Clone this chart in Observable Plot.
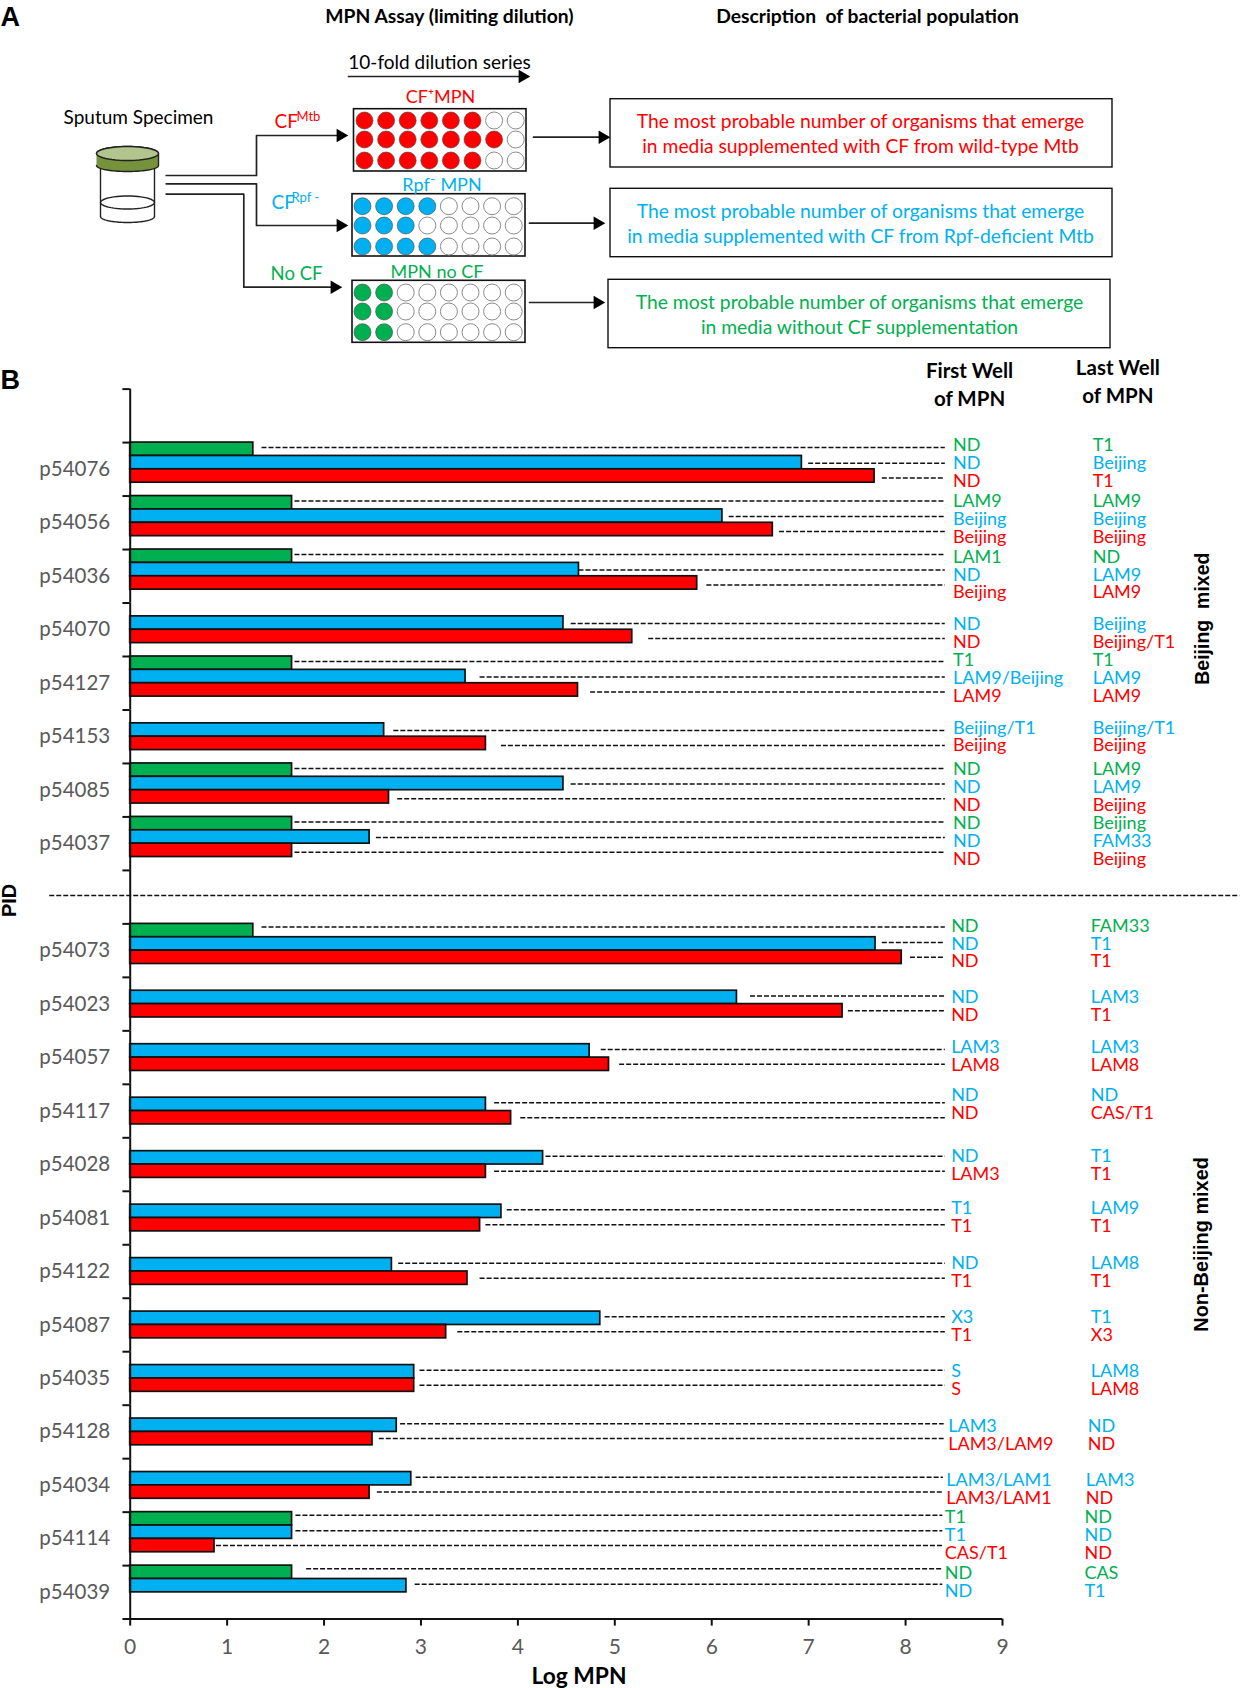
<!DOCTYPE html>
<html>
<head>
<meta charset="utf-8">
<script src="https://cdn.jsdelivr.net/npm/d3@7"></script>
<script src="https://cdn.jsdelivr.net/npm/@observablehq/plot@0.6"></script>
<style>
html,body{margin:0;padding:0;background:#fff}
svg{display:block}
</style>
</head>
<body>
<div id="chart"></div>
<script>
// ---------- Panel B data ----------
const pids = ["p54076","p54056","p54036","p54070","p54127","p54153","p54085","p54037",
  "p54073","p54023","p54057","p54117","p54028","p54081","p54122","p54087","p54035","p54128","p54034","p54114","p54039"];
const beijingMixedCount = 8;
const greenMpn = [1.27,1.67,1.67,null,1.67,null,1.67,1.67, 1.27,null,null,null,null,null,null,null,null,null,null,1.67,1.67];
const blueMpn  = [6.93,6.11,4.63,4.47,3.46,2.62,4.47,2.47, 7.69,6.26,4.74,3.67,4.26,3.83,2.70,4.85,2.93,2.75,2.90,1.67,2.85];
const redMpn   = [7.68,6.63,5.85,5.18,4.62,3.67,2.67,1.67, 7.96,7.35,4.94,3.93,3.67,3.61,3.48,3.26,2.93,2.50,2.47,0.87,null];
const greenLead = [1.36,1.70,1.70,null,1.70,null,1.70,1.70, 1.36,null,null,null,null,null,null,null,null,null,null,1.71,1.82];
const blueLead  = [7.00,6.18,4.63,4.55,3.61,2.72,4.55,2.54, 7.76,6.40,4.86,3.76,4.29,3.89,2.77,4.90,2.99,2.79,2.95,1.71,2.94];
const redLead   = [7.76,6.70,5.95,5.35,4.75,3.83,2.76,1.70, 8.05,7.41,5.05,4.03,3.76,3.67,3.61,3.38,2.99,2.57,2.55,0.89,null];
const greenFirst = ["ND","LAM9","LAM1",null,"T1",null,"ND","ND", "ND",null,null,null,null,null,null,null,null,null,null,"T1","ND"];
const blueFirst  = ["ND","Beijing","ND","ND","LAM9/Beijing","Beijing/T1","ND","ND", "ND","ND","LAM3","ND","ND","T1","ND","X3","S","LAM3","LAM3/LAM1","T1","ND"];
const redFirst   = ["ND","Beijing","Beijing","ND","LAM9","Beijing","ND","ND", "ND","ND","LAM8","ND","LAM3","T1","T1","T1","S","LAM3/LAM9","LAM3/LAM1","CAS/T1",null];
const greenLast = ["T1","LAM9","ND",null,"T1",null,"LAM9","Beijing", "FAM33",null,null,null,null,null,null,null,null,null,null,"ND","CAS"];
const blueLast  = ["Beijing","Beijing","LAM9","Beijing","LAM9","Beijing/T1","LAM9","FAM33", "T1","LAM3","LAM3","ND","T1","LAM9","LAM8","T1","LAM8","ND","LAM3","ND","T1"];
const redLast   = ["T1","Beijing","LAM9","Beijing/T1","LAM9","Beijing","Beijing","Beijing", "T1","T1","LAM8","CAS/T1","T1","T1","T1","X3","LAM8","ND","ND","ND",null];
const xTicks = [0,1,2,3,4,5,6,7,8,9];

// ---------- Panel A data ----------
const plateFilled = [[6,7,6],[4,3,4],[2,2,2]];
const plateNames = ["CF","Rpf","NoCF"];
const descriptions = [
  ["The most probable number of organisms that emerge","in media supplemented with CF from wild-type Mtb"],
  ["The most probable number of organisms that emerge","in media supplemented with CF from Rpf-deficient Mtb"],
  ["The most probable number of organisms that emerge","in media without CF supplementation"]
];

// ---------- Shared look ----------
const RED="#FF0000", BLUE="#00B0F0", GREEN="#00B050";
const FONT="Lato, Carlito, 'Open Sans', sans-serif";
const colours = {CF:RED, Rpf:BLUE, NoCF:GREEN};

// ---------- Panel A ----------
const plateBox = [
  {x1:353.5,x2:526,y1:108.7,y2:171, wx:364, wy:[120,139,160]},
  {x1:352,x2:525,y1:193.7,y2:256, wx:362, wy:[205.7,225,246]},
  {x1:352,x2:525,y1:280.3,y2:342.3, wx:362, wy:[292,311,331.7]}
];
const wells = plateFilled.flatMap((rows,p)=>rows.flatMap((n,r)=>d3.range(8).map(c=>({
  x: plateBox[p].wx + c*21.6, y: plateBox[p].wy[r], plate: plateNames[p], filled: c<n
}))));
const descBox = [
  {x1:610,x2:1112,y1:98.7,y2:167, cx:860, ty:[121.7,146], plate:"CF"},
  {x1:610,x2:1112,y1:188.3,y2:256.7, cx:860, ty:[211,236], plate:"Rpf"},
  {x1:608,x2:1110,y1:279.3,y2:347.7, cx:859, ty:[302,327], plate:"NoCF"}
];
const descText = descBox.flatMap((b,i)=>descriptions[i].map((t,j)=>({x:b.cx,y:b.ty[j],t,plate:b.plate})));
const connectors = [
  [[165.7,175],[256,175],[256,135],[340,135]],
  [[165.7,183.3],[256,183.3],[256,225],[340,225]],
  [[165.7,193.7],[243.3,193.7],[243.3,286.7],[334,286.7]],
  [[533,136.7],[602,136.7]],
  [[529,222.7],[597,222.7]],
  [[529,302],[597,302]],
  [[348,76],[522,76]]
];
const heads = [[340,135],[340,225],[334,286.7],[602,136.7],[597,222.7],[597,302],[522,76]];
function ell(cx,cy,rx,ry,a0=0,a1=360){
  const n=48; return d3.range(n+1).map(i=>{const a=(a0+(a1-a0)*i/n)*Math.PI/180;return [cx+rx*Math.cos(a),cy+ry*Math.sin(a)];});
}
const vialBody = [[100,168],...ell(127,216,27,6,180,0),[154,168]];
const capBody = [...ell(127,153,31,7,180,360),...ell(127,165,31,6,0,180)];
const flat = (pts,id)=>pts.map(([x,y])=>({x,y,id}));

const panelA = Plot.plot({
  width:1240,height:352,margin:0,
  x:{domain:[0,1240],range:[0,1240],axis:null},
  y:{domain:[0,352],range:[0,352],axis:null},
  color:{domain:Object.keys(colours),range:Object.values(colours)},
  style:{background:"transparent",fontFamily:FONT,overflow:"visible"},
  marks:[
    Plot.text(["A"],{x:0,y:17,text:d=>d,textAnchor:"start",fontWeight:"bold",fontSize:27,fontFamily:"'Liberation Sans',sans-serif"}),
    Plot.text(["MPN Assay (limiting dilution)"],{x:449,y:16.5,text:d=>d,fontWeight:"bold",fontSize:19.3}),
    Plot.text(["Description  of bacterial population"],{x:867,y:16.5,text:d=>d,fontWeight:"bold",fontSize:19.3}),
    Plot.text(["10-fold dilution series"],{x:439,y:62.5,text:d=>d,fontSize:19}),
    Plot.text(["Sputum Specimen"],{x:138,y:117.5,text:d=>d,fontSize:19}),
    ...connectors.map(c=>Plot.line(flat(c),{x:"x",y:"y",stroke:"#222",strokeWidth:1.7,curve:"linear"})),
    Plot.dot(heads,{x:d=>d[0],y:d=>d[1],symbol:"triangle",rotate:90,r:5,fill:"black",stroke:"none"}),
    // vial
    Plot.line(flat(vialBody),{x:"x",y:"y",stroke:"#222",strokeWidth:1.4}),
    Plot.line(flat(ell(127,202,27,6.5)),{x:"x",y:"y",stroke:"#222",strokeWidth:1.4}),
    Plot.line(flat(capBody),{x:"x",y:"y",fill:"#76923C",stroke:"#222",strokeWidth:1.4}),
    Plot.line(flat(ell(127,153,31,7)),{x:"x",y:"y",fill:"#B2C58C",stroke:"#222",strokeWidth:1.4}),
    // side labels
    Plot.text(["CF"],{x:274,y:121,text:d=>d,textAnchor:"start",fill:RED,fontSize:19}),
    Plot.text(["Mtb"],{x:296,y:116,text:d=>d,textAnchor:"start",fill:RED,fontSize:13}),
    Plot.text(["CF"],{x:271,y:202,text:d=>d,textAnchor:"start",fill:BLUE,fontSize:19}),
    Plot.text(["Rpf -"],{x:291,y:197,text:d=>d,textAnchor:"start",fill:BLUE,fontSize:13}),
    Plot.text(["No CF"],{x:296,y:274,text:d=>d,fill:GREEN,fontSize:18.5}),
    // plates
    Plot.rect(plateBox,{x1:"x1",x2:"x2",y1:"y1",y2:"y2",fill:"white",stroke:"#111",strokeWidth:1.6}),
    Plot.dot(wells.filter(d=>!d.filled),{x:"x",y:"y",r:8.5,fill:"white",stroke:"#8a8a8a",strokeWidth:1}),
    Plot.dot(wells.filter(d=>d.filled),{x:"x",y:"y",r:8.5,fill:"plate",stroke:"#444",strokeWidth:.6}),
    Plot.text(["CF\u207AMPN"],{x:440,y:96.5,text:d=>d,fill:RED,fontSize:18}),
    Plot.text(["Rpf\u207B MPN"],{x:441.5,y:184.5,text:d=>d,fill:BLUE,fontSize:18}),
    Plot.text(["MPN no CF"],{x:436.5,y:271.5,text:d=>d,fill:GREEN,fontSize:18}),
    // description boxes
    Plot.rect(descBox,{x1:"x1",x2:"x2",y1:"y1",y2:"y2",fill:"none",stroke:"#111",strokeWidth:1.4}),
    Plot.text(descText,{x:"x",y:"y",text:"t",fill:"plate",fontSize:19.3})
  ]
});

// ---------- Panel B ----------
const slots = ["blankTop",...pids.slice(0,beijingMixedCount),"blankMid",...pids.slice(beijingMixedCount)];
const seriesOrder = ["NoCF","Rpf","CF","space"];
const columns = [
  ["NoCF",greenMpn,greenLead,greenFirst,greenLast],
  ["Rpf",blueMpn,blueLead,blueFirst,blueLast],
  ["CF",redMpn,redLead,redFirst,redLast]
];
const labelDrift = {p54128:-.03,p54034:-.05,p54114:-.065,p54039:-.065};
const labelNudge = {p54076:.5,p54056:3.2,p54036:5.4,p54070:1,p54127:2,p54153:-2,p54085:4.3,p54037:4.8,
  p54057:-3.2,p54117:-8.6,p54028:-1,p54081:-3.2,p54122:-1,p54087:-1,p54128:1,p54034:2,p54114:3.2,p54039:5.4};
const rows = columns.flatMap(([series,m,l,f,la])=>pids.map((pid,i)=>({
  pid,series,mpn:m[i],lead:l[i],first:f[i],last:la[i],upper:i<beijingMixedCount
}))).filter(d=>d.mpn!=null);
const lastSlot = slots[slots.length-1];
const textDy = {NoCF:-4.7,Rpf:-.2,CF:4.3};
const leaderDy = {true:{NoCF:-1.7,Rpf:.5,CF:2},false:{NoCF:-3.5,Rpf:-1.5,CF:0}};
const labelMarks = rows.flatMap(d=>{
  const base = {y:"series",fy:"pid",fill:"series",fontSize:18,textAnchor:"start",dy:textDy[d.series]+(labelNudge[d.pid]||0)};
  const x0 = (labelDrift[d.pid]||0)+(d.upper?.02:0);
  return [
    Plot.text([d],{...base,x:()=>8.47+x0,text:"first"}),
    Plot.text([d],{...base,x:()=>9.91+x0,text:"last"})
  ];
});
const leaderMarks = [true,false].flatMap(u=>Object.keys(textDy).map(s=>
  Plot.ruleY(rows.filter(d=>d.series===s&&d.upper===u),{y:"series",fy:"pid",x1:"lead",x2:d=>8.41+(labelDrift[d.pid]||0)*.4,stroke:"#111",strokeWidth:1.5,strokeDasharray:"5 2",dy:leaderDy[u][s]})
));

const panelB = Plot.plot({
  width:1240,height:1336,
  marginTop:36.6,marginBottom:69.4,marginLeft:129.7,marginRight:238,
  x:{domain:[0,9]},
  y:{domain:seriesOrder,padding:0,round:false,axis:null},
  fy:{domain:slots,padding:0,round:false},
  color:{domain:Object.keys(colours),range:Object.values(colours)},
  style:{background:"transparent",fontFamily:FONT,overflow:"visible"},
  marks:[
    Plot.axisFy({anchor:"left",tickSize:0,tickPadding:20,label:null,fontSize:20.5,fill:"#595959",
      tickFormat:d=>d.startsWith("blank")?"":d}),
    Plot.axisX({anchor:"bottom",ticks:xTicks,tickSize:7,tickPadding:13,label:null,stroke:"#111",strokeWidth:2,fill:"#595959",fontSize:21}),
    Plot.barX(rows,{x:"mpn",y:"series",fy:"pid",fill:"series",stroke:"#111",strokeWidth:1.7}),
    ...leaderMarks,
    Plot.ruleX(slots,{fy:d=>d,x:()=>0,stroke:"#111",strokeWidth:2}),
    Plot.ruleY(slots,{fy:d=>d,y:()=>"NoCF",x1:()=>-.075,x2:()=>0,dy:-6.68,stroke:"#111",strokeWidth:2}),
    Plot.ruleY([lastSlot],{fy:d=>d,y:()=>"space",x1:()=>-.075,x2:()=>9,dy:6.68,stroke:"#111",strokeWidth:2}),
    ...labelMarks,
    // separator between the two groups
    Plot.ruleY(["blankMid"],{fy:d=>d,y:()=>"Rpf",x1:()=>-.83,x2:()=>11.45,dy:5,stroke:"#111",strokeWidth:1.5,strokeDasharray:"5 2"}),
    // headers, group names, axis names
    Plot.text(["First Well\nof MPN"],{fy:()=>"blankTop",y:()=>"NoCF",x:()=>8.66,dy:-12.5,text:d=>d,fontWeight:"bold",fontSize:20.5,lineHeight:1.37,fill:"black"}),
    Plot.text(["Last Well\nof MPN"],{fy:()=>"blankTop",y:()=>"NoCF",x:()=>10.19,dy:-15.5,text:d=>d,fontWeight:"bold",fontSize:20.5,lineHeight:1.37,fill:"black"}),
    Plot.text(["B"],{fy:()=>"blankTop",y:()=>"NoCF",x:()=>-1.337,dy:-15,text:d=>d,textAnchor:"start",fontWeight:"bold",fontSize:27,fontFamily:"'Liberation Sans',sans-serif"}),
    Plot.text(["Beijing  mixed"],{fy:()=>"p54070",y:()=>"NoCF",x:()=>11.07,dy:9,text:d=>d,rotate:-90,fontWeight:"bold",fontSize:19.5,fontFamily:"'Liberation Sans',sans-serif"}),
    Plot.text(["Non-Beijing mixed"],{fy:()=>"p54122",y:()=>"NoCF",x:()=>11.05,dy:-7,text:d=>d,rotate:-90,fontWeight:"bold",fontSize:19.9,fontFamily:"'Liberation Sans',sans-serif"}),
    Plot.text(["PID"],{fy:()=>"blankMid",y:()=>"CF",x:()=>-1.244,dy:-3.4,text:d=>d,rotate:-90,fontWeight:"bold",fontSize:20,fontFamily:"'Liberation Sans',sans-serif"}),
    Plot.text(["Log MPN"],{fy:()=>lastSlot,y:()=>"space",x:()=>4.63,dy:64,text:d=>d,fontWeight:"bold",fontSize:22.8,fill:"black"})
  ]
});

document.getElementById("chart").append(panelA,panelB);
</script>
</body>
</html>
